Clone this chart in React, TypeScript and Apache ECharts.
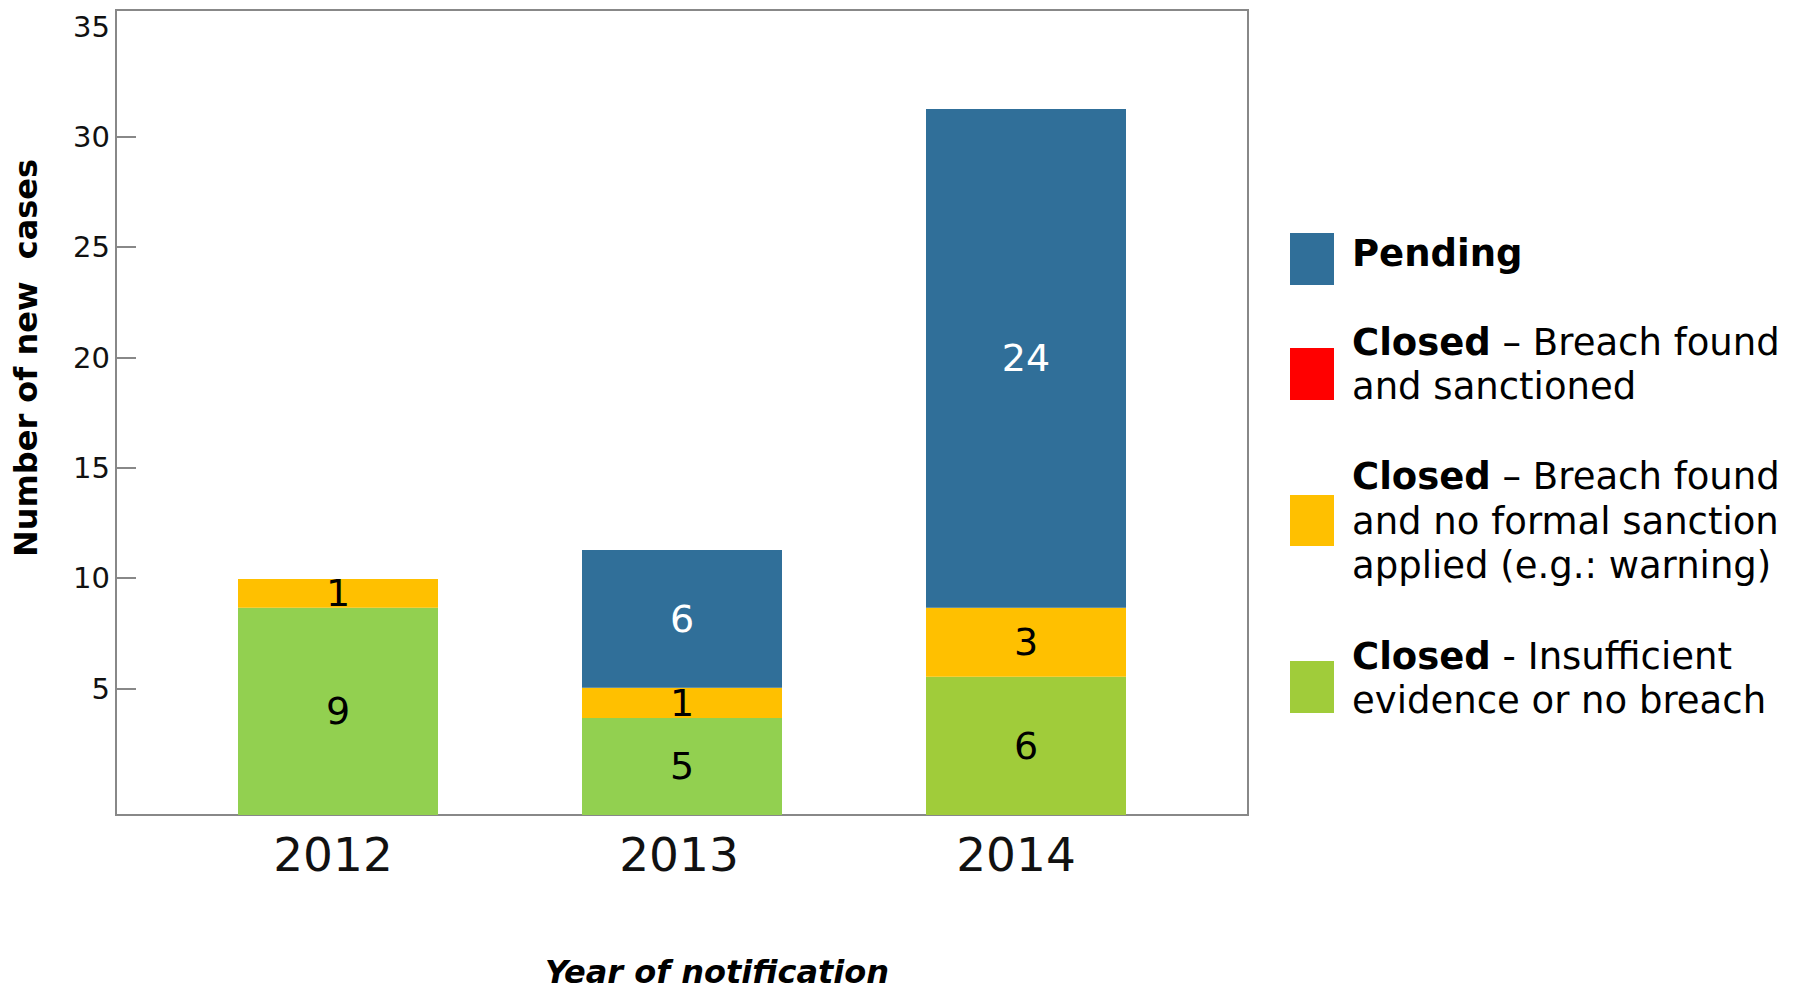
import React, { useEffect, useRef } from "react";
import * as echarts from "echarts";

// Categories (year of notification)
const years = ["2012", "2013", "2014"];

// Segment heights as drawn in the picture (axis units, measured from the axis floor)
const insufficientHeights = [9.39, 4.4, 6.27];
const noSanctionHeights = [1.3, 1.37, 3.12];
const sanctionedHeights = [0, 0, 0];
const pendingHeights = [0, 6.24, 22.6];

// Numbers printed on the segments
const insufficientLabels = ["9", "5", "6"];
const noSanctionLabels = ["1", "1", "3"];
const pendingLabels = ["", "6", "24"];

// Axis ticks / labels
const yTickValues = [5, 10, 15, 20, 25, 30];
const yLabelValues = [5, 10, 15, 20, 25, 30, 35];

const seriesNames = [
  "Pending",
  "Closed – Breach found and sanctioned",
  "Closed – Breach found and no formal sanction applied (e.g.: warning)",
  "Closed - Insufficient evidence or no breach",
];

const BLUE = "#306F99";
const RED = "#FF0000";
const YELLOW = "#FFC000";
const GREEN = "#92D050";
const GREEN2 = "#A0CC3A";
const FONT = "DejaVu Sans";

export default function App() {
  const ref = useRef<HTMLDivElement>(null);

  useEffect(() => {
    document.body.style.margin = "0";
    document.body.style.overflow = "hidden";
    const chart = echarts.init(ref.current!, undefined, { renderer: "svg" });

    const labelBase = {
      show: true,
      position: "inside",
      fontSize: 38,
      fontFamily: FONT,
    };

    const LFS = 37;
    const LLH = 44.5;
    const legendText = (x: number, y: number, text: string) => ({
      type: "text",
      x,
      y,
      style: {
        text,
        fontFamily: FONT,
        fontSize: LFS,
        lineHeight: LLH,
        fill: "#000",
        verticalAlign: "top",
        align: "left",
        rich: {
          b: { fontWeight: "bold", fontSize: LFS, lineHeight: LLH, fontFamily: FONT },
          r: { fontSize: LFS, lineHeight: LLH, fontFamily: FONT },
        },
      },
    });

    const yearLabelStyle = { fontSize: 47, color: "#111", fontFamily: FONT };

    const option: any = {
      animation: false,
      backgroundColor: "#fff",
      textStyle: { fontFamily: FONT },
      grid: [
        {
          left: 116,
          top: 10,
          width: 1132,
          height: 805,
          show: true,
          borderColor: "#888",
          borderWidth: 2,
          backgroundColor: "transparent",
          containLabel: false,
        },
        { left: 166, top: 10, width: 1032, height: 805, containLabel: false },
      ],
      xAxis: [
        { type: "value", gridIndex: 0, show: false, min: 0, max: 1 },
        {
          type: "category",
          gridIndex: 1,
          data: years,
          axisLine: { show: false },
          axisTick: { show: false },
          axisLabel: {
            ...yearLabelStyle,
            margin: 16,
            formatter: (v: string, i: number) => `{y${i}|${v}}`,
            rich: {
              y0: { ...yearLabelStyle, padding: [0, 10, 0, 0] },
              y1: { ...yearLabelStyle, padding: [0, 6, 0, 0] },
              y2: { ...yearLabelStyle, padding: [0, 20, 0, 0] },
            },
          },
        },
      ],
      yAxis: [
        {
          type: "value",
          gridIndex: 0,
          min: -0.73,
          max: 35.75,
          axisLine: { show: false },
          splitLine: { show: false },
          axisTick: {
            show: true,
            inside: true,
            length: 20,
            lineStyle: { color: "#888", width: 2 },
            customValues: yTickValues,
          },
          axisLabel: {
            fontSize: 29,
            color: "#111",
            margin: 6,
            fontFamily: FONT,
            customValues: yLabelValues,
          },
        },
        {
          type: "value",
          gridIndex: 1,
          min: 0,
          max: 36.48,
          show: false,
          splitLine: { show: false },
        },
      ],
      series: [
        {
          name: seriesNames[3],
          type: "bar",
          stack: "cases",
          xAxisIndex: 1,
          yAxisIndex: 1,
          barWidth: 200,
          data: insufficientHeights.map((v, i) => ({
            value: v,
            itemStyle: { color: i === 2 ? GREEN2 : GREEN },
          })),
          label: {
            ...labelBase,
            color: "#000",
            formatter: (p: any) => insufficientLabels[p.dataIndex],
          },
        },
        {
          name: seriesNames[2],
          type: "bar",
          stack: "cases",
          xAxisIndex: 1,
          yAxisIndex: 1,
          barWidth: 200,
          itemStyle: { color: YELLOW },
          data: noSanctionHeights,
          label: {
            ...labelBase,
            color: "#000",
            formatter: (p: any) => noSanctionLabels[p.dataIndex],
          },
        },
        {
          name: seriesNames[1],
          type: "bar",
          stack: "cases",
          xAxisIndex: 1,
          yAxisIndex: 1,
          barWidth: 200,
          itemStyle: { color: RED },
          data: sanctionedHeights,
          label: { show: false },
        },
        {
          name: seriesNames[0],
          type: "bar",
          stack: "cases",
          xAxisIndex: 1,
          yAxisIndex: 1,
          barWidth: 200,
          itemStyle: { color: BLUE },
          data: pendingHeights,
          label: {
            ...labelBase,
            color: "#fff",
            formatter: (p: any) => pendingLabels[p.dataIndex],
          },
        },
      ],
      graphic: [
        {
          type: "text",
          x: 26,
          y: 358,
          rotation: Math.PI / 2,
          style: {
            text: "Number of new  cases",
            fontFamily: FONT,
            fontSize: 32,
            fontWeight: "bold",
            fill: "#000",
            align: "center",
            verticalAlign: "middle",
          },
        },
        {
          type: "text",
          x: 717,
          y: 972,
          style: {
            text: "Year of notification",
            fontFamily: FONT,
            fontSize: 32,
            fontWeight: "bold",
            fontStyle: "italic",
            fill: "#000",
            align: "center",
            verticalAlign: "middle",
          },
        },
        { type: "rect", shape: { x: 1290, y: 233, width: 44, height: 52 }, style: { fill: BLUE } },
        { type: "rect", shape: { x: 1290, y: 348, width: 44, height: 52 }, style: { fill: RED } },
        { type: "rect", shape: { x: 1290, y: 495, width: 44, height: 51 }, style: { fill: YELLOW } },
        { type: "rect", shape: { x: 1290, y: 661, width: 44, height: 52 }, style: { fill: GREEN2 } },
        legendText(1352, 231.5, "{b|Pending}"),
        legendText(1352, 320, "{b|Closed} {r|– Breach found}\n{r|and sanctioned}"),
        legendText(
          1352,
          454.3,
          "{b|Closed} {r|– Breach found}\n{r|and no formal sanction}\n{r|applied (e.g.: warning)}"
        ),
        legendText(1352, 634, "{b|Closed} {r|- Insufficient}\n{r|evidence or no breach}"),
      ],
    };

    chart.setOption(option);
    return () => chart.dispose();
  }, []);

  return <div ref={ref} style={{ width: 1802, height: 990 }} />;
}
